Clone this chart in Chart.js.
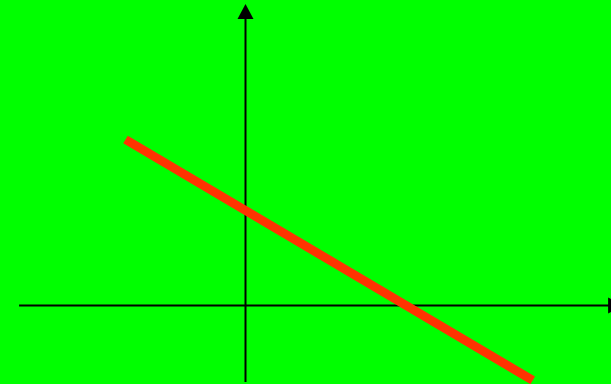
<!DOCTYPE html>
<html>
<head>
<meta charset="utf-8">
<script src="https://cdn.jsdelivr.net/npm/chart.js@4/dist/chart.umd.min.js"></script>
<style>
html, body { margin: 0; padding: 0; background: #00ff00; overflow: hidden; }
canvas { display: block; }
</style>
</head>
<body>
<canvas id="graph" width="611" height="384"></canvas>
<script>
// line end points (data units)
var lineX = [-3.0, 7.18];
var lineY = [4.15, -1.87];

// axis extents (data units)
var xAxisFrom = -5.66, xAxisTo = 9.44;
var yAxisFrom = -1.91, yAxisTo = 7.54;

var points = lineX.map(function (x, i) { return { x: x, y: lineY[i] }; });

// draws the two axes through zero with arrow heads
var axesPlugin = {
  id: 'axes',
  beforeDatasetsDraw: function (chart) {
    var ctx = chart.ctx;
    var sx = chart.scales.x, sy = chart.scales.y;
    var x0 = sx.getPixelForValue(0), y0 = sy.getPixelForValue(0);
    ctx.save();
    ctx.strokeStyle = '#000';
    ctx.fillStyle = '#000';
    ctx.lineWidth = 2;

    var xl = sx.getPixelForValue(xAxisFrom), xr = sx.getPixelForValue(xAxisTo);
    ctx.beginPath();
    ctx.moveTo(xl, y0);
    ctx.lineTo(xr - 14, y0);
    ctx.stroke();
    ctx.beginPath();
    ctx.moveTo(xr, y0);
    ctx.lineTo(xr - 15, y0 - 8);
    ctx.lineTo(xr - 15, y0 + 8);
    ctx.closePath();
    ctx.fill();

    var yb = sy.getPixelForValue(yAxisFrom), yt = sy.getPixelForValue(yAxisTo);
    ctx.beginPath();
    ctx.moveTo(x0, yb);
    ctx.lineTo(x0, yt + 14);
    ctx.stroke();
    ctx.beginPath();
    ctx.moveTo(x0, yt);
    ctx.lineTo(x0 - 8, yt + 15);
    ctx.lineTo(x0 + 8, yt + 15);
    ctx.closePath();
    ctx.fill();
    ctx.restore();
  }
};

new Chart(document.getElementById('graph').getContext('2d'), {
  type: 'scatter',
  data: {
    datasets: [{
      data: points,
      showLine: true,
      borderColor: '#ff3300',
      borderWidth: 9,
      borderCapStyle: 'butt',
      pointRadius: 0,
      fill: false
    }]
  },
  options: {
    responsive: false,
    animation: false,
    layout: { padding: 0 },
    plugins: { legend: { display: false }, tooltip: { enabled: false } },
    scales: {
      x: { type: 'linear', min: -6.1375, max: 9.1375, display: false },
      y: { type: 'linear', min: -1.9625, max: 7.6375, display: false }
    }
  },
  plugins: [axesPlugin]
});
</script>
</body>
</html>
